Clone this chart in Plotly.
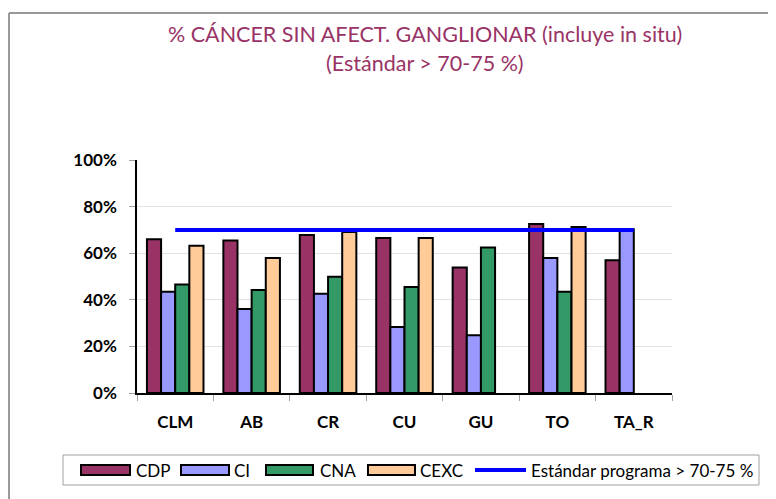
import plotly.graph_objects as go

categories = ["CLM", "AB", "CR", "CU", "GU", "TO", "TA_R"]
cdp = [66.0, 65.5, 67.8, 66.5, 53.9, 72.5, 57.0]
ci = [43.5, 36.0, 42.6, 28.3, 24.8, 57.9, 70.3]
cna = [46.6, 44.2, 49.9, 45.5, 62.5, 43.5, None]
cexc = [63.2, 57.9, 69.1, 66.5, None, 71.2, None]
standard = [70, 70, 70, 70, 70, 70, 70]
y_ticks = [0, 20, 40, 60, 80, 100]
y_tick_labels = ["0%", "20%", "40%", "60%", "80%", "100%"]
series_names = ["CDP", "CI", "CNA", "CEXC"]
standard_name = "Estándar programa > 70-75 %"
title_lines = ["% CÁNCER SIN AFECT. GANGLIONAR (incluye in situ)", "(Estándar > 70-75 %)"]

FONT = "Lato, 'Open Sans', sans-serif"
COLORS = ["#993366", "#9999FF", "#339966", "#FFCC99"]
LINE_BLUE = "#0000FF"

# figure geometry (pixels)
W, H = 776, 499
L, T, PW, PH = 129, 152, 535, 233
R, B = W - L - PW, H - T - PH


def px(x):  # figure pixel x -> paper
    return (x - L) / PW


def py(y):  # figure pixel y -> paper
    return (T + PH - y) / PH


fig = go.Figure()
for name, vals, col in zip(series_names, [cdp, ci, cna, cexc], COLORS):
    fig.add_trace(go.Bar(x=categories, y=vals, name=name,
                         marker=dict(color=col, line=dict(color="black", width=2))))
fig.add_trace(go.Scatter(x=categories, y=standard, name=standard_name,
                         mode="lines", line=dict(color=LINE_BLUE, width=4)))

shapes = [
    # outer chart frame (top and left edges visible)
    dict(type="line", xref="paper", yref="paper", x0=px(1), x1=px(790), y0=py(5), y1=py(5),
         line=dict(color="#999999", width=2)),
    dict(type="line", xref="paper", yref="paper", x0=px(1), x1=px(1), y0=py(5), y1=py(510),
         line=dict(color="#999999", width=2)),
    # legend box
    dict(type="rect", xref="paper", yref="paper", x0=px(55), x1=px(751), y0=py(447), y1=py(477),
         line=dict(color="#A0A0A0", width=1), fillcolor="white"),
]
annotations = [
    dict(text=title_lines[0], xref="paper", yref="paper", x=px(417), y=py(26),
         xanchor="center", yanchor="middle", showarrow=False,
         font=dict(size=21.5, color="#993366", family=FONT)),
    dict(text=title_lines[1], xref="paper", yref="paper", x=px(417), y=py(55),
         xanchor="center", yanchor="middle", showarrow=False,
         font=dict(size=21.5, color="#993366", family=FONT)),
]

# manual legend
leg_y = 462
swatch_x = [(73, 122), (173, 221), (258, 305), (360, 407)]
text_x = [126, 224, 310, 410]
for (x0, x1), tx, col, name in zip(swatch_x, text_x, COLORS, series_names):
    shapes.append(dict(type="rect", xref="paper", yref="paper", x0=px(x0), x1=px(x1),
                       y0=py(leg_y - 5), y1=py(leg_y + 5), fillcolor=col,
                       line=dict(color="black", width=2)))
    annotations.append(dict(text=name, xref="paper", yref="paper", x=px(tx), y=py(leg_y),
                            xanchor="left", yanchor="middle", showarrow=False,
                            font=dict(size=17, family=FONT, color="black")))
shapes.append(dict(type="line", xref="paper", yref="paper", x0=px(467), x1=px(518),
                   y0=py(leg_y), y1=py(leg_y), line=dict(color=LINE_BLUE, width=4)))
annotations.append(dict(text=standard_name, xref="paper", yref="paper", x=px(521), y=py(leg_y),
                        xanchor="left", yanchor="middle", showarrow=False,
                        font=dict(size=17, family=FONT, color="black")))

fig.update_layout(
    width=W, height=H,
    margin=dict(l=L, r=R, t=T, b=B, autoexpand=False),
    paper_bgcolor="white", plot_bgcolor="white",
    barmode="group", bargap=0.26, bargroupgap=0,
    font=dict(family=FONT, size=14, color="black"),
    showlegend=False,
    annotations=annotations,
    shapes=shapes,
)
fig.update_xaxes(type="category", showline=True, linecolor="black", linewidth=1.5,
                 ticks="outside", tickson="boundaries", ticklen=6, tickcolor="#A0A0A0",
                 tickfont=dict(size=17, family=FONT, color="black", weight="bold"),
                 showgrid=False, ticklabelstandoff=13)
fig.update_yaxes(range=[0, 100], tickvals=y_ticks, ticktext=y_tick_labels,
                 showline=True, linecolor="black", linewidth=1.5,
                 ticks="outside", ticklen=6, tickcolor="#A0A0A0",
                 showgrid=True, gridcolor="#E3E3E3", gridwidth=1, zeroline=False,
                 tickfont=dict(size=17, family=FONT, color="black", weight="bold"),
                 ticklabelstandoff=9)

fig.write_html("out.html")
